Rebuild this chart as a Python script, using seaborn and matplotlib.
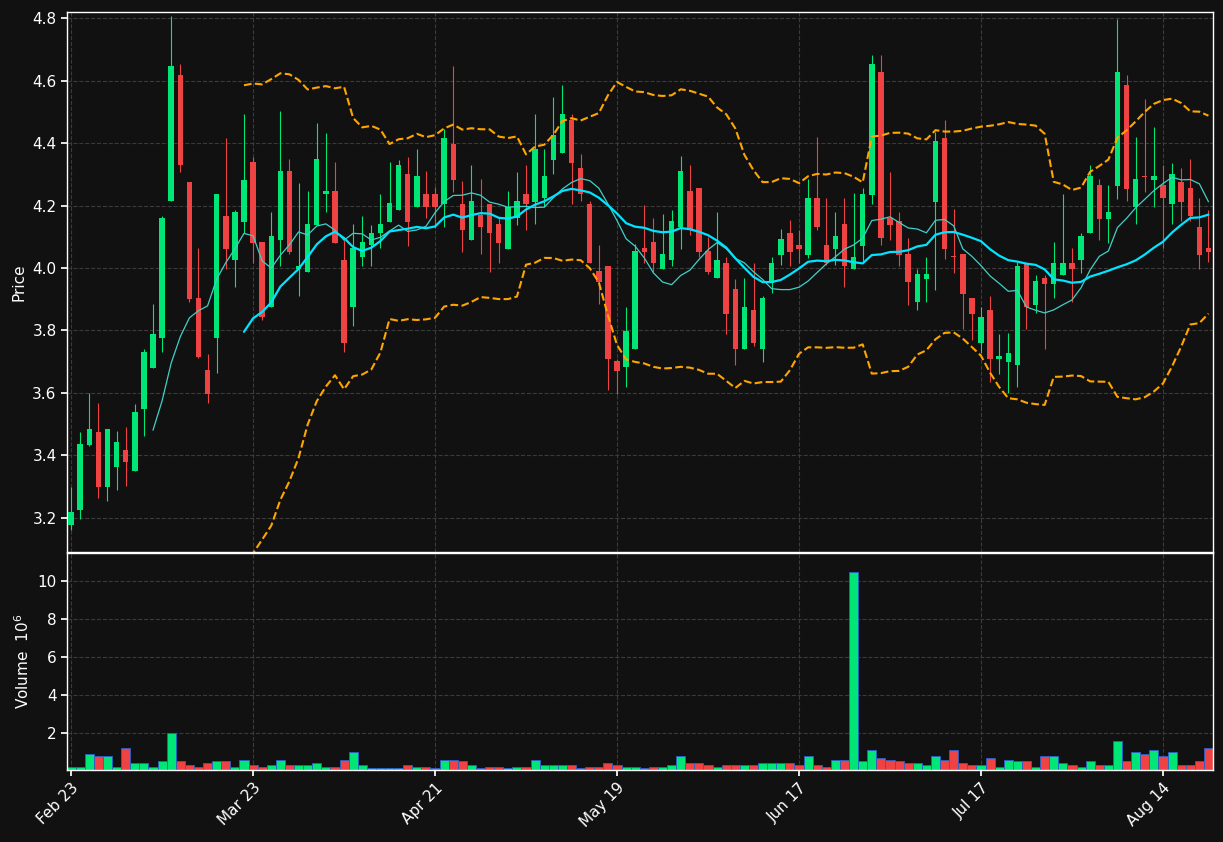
import numpy as np
import pandas as pd
import seaborn as sns
import matplotlib.pyplot as plt

# OHLC (prix), volume en millions
opens = [3.175, 3.226, 3.432, 3.475, 3.298, 3.362, 3.416, 3.349, 3.548, 3.681,
         3.777, 4.213, 4.617, 4.274, 3.903, 3.674, 3.777, 4.168, 4.025, 4.148,
         4.339, 4.082, 3.874, 4.090, 4.311, 3.997, 3.987, 4.138, 4.236, 4.246,
         4.027, 3.874, 4.034, 4.073, 4.111, 4.148, 4.186, 4.302, 4.196, 4.237,
         4.237, 4.205, 4.398, 4.206, 4.090, 4.170, 4.206, 4.141, 4.062, 4.159,
         4.237, 4.212, 4.223, 4.347, 4.368, 4.473, 4.321, 4.206, 3.989, 4.007,
         3.702, 3.682, 3.740, 4.064, 4.082, 3.997, 4.025, 4.130, 4.246, 4.256,
         4.054, 3.967, 4.017, 3.932, 3.740, 3.866, 3.740, 3.951, 4.042, 4.113,
         4.072, 4.042, 4.225, 4.072, 4.062, 4.141, 3.997, 4.070, 4.234, 4.627,
         4.161, 4.150, 4.045, 3.891, 3.966, 4.212, 4.417, 4.036, 4.045, 3.903,
         3.759, 3.866, 3.709, 3.699, 3.690, 4.012, 3.882, 3.969, 3.948, 3.978,
         4.017, 4.025, 4.111, 4.265, 4.158, 4.263, 4.587, 4.196, 4.293, 4.282,
         4.265, 4.205, 4.274, 4.256, 4.132, 4.064]
highs = [3.298, 3.474, 3.599, 3.567, 3.485, 3.478, 3.492, 3.564, 3.740, 3.884,
         4.167, 4.806, 4.655, 4.274, 4.063, 3.725, 4.237, 4.417, 4.185, 4.493,
         4.356, 4.082, 4.178, 4.502, 4.348, 4.273, 4.247, 4.463, 4.431, 4.338,
         4.090, 4.141, 4.167, 4.138, 4.236, 4.338, 4.346, 4.355, 4.380, 4.310,
         4.258, 4.445, 4.646, 4.277, 4.330, 4.284, 4.206, 4.159, 4.247, 4.308,
         4.330, 4.494, 4.380, 4.549, 4.587, 4.494, 4.364, 4.215, 4.073, 4.007,
         3.709, 3.874, 4.076, 4.202, 4.159, 4.172, 4.187, 4.359, 4.330, 4.256,
         4.100, 4.178, 4.036, 3.965, 3.967, 4.015, 3.911, 4.036, 4.126, 4.154,
         4.122, 4.284, 4.420, 4.225, 4.178, 4.225, 4.241, 4.255, 4.682, 4.682,
         4.308, 4.178, 4.097, 3.998, 4.036, 4.434, 4.473, 4.188, 4.045, 3.903,
         3.876, 3.911, 3.788, 3.793, 4.018, 4.012, 3.978, 3.978, 4.082, 4.236,
         4.063, 4.112, 4.330, 4.284, 4.265, 4.797, 4.617, 4.420, 4.540, 4.450,
         4.330, 4.335, 4.320, 4.348, 4.223, 4.186]
lows = [3.159, 3.196, 3.430, 3.263, 3.254, 3.288, 3.300, 3.349, 3.461, 3.681,
        3.731, 4.213, 4.308, 3.892, 3.711, 3.567, 3.664, 3.998, 3.939, 4.111,
        4.015, 3.834, 3.874, 4.007, 4.044, 3.911, 3.987, 4.138, 4.178, 4.081,
        3.732, 3.815, 4.007, 4.007, 4.063, 4.148, 4.186, 4.071, 4.196, 4.159,
        4.127, 4.130, 4.244, 4.050, 4.090, 4.044, 3.988, 4.015, 4.062, 4.138,
        4.122, 4.141, 4.196, 4.301, 4.368, 4.205, 4.215, 4.015, 3.885, 3.610,
        3.597, 3.618, 3.740, 4.015, 3.988, 3.997, 4.007, 4.062, 4.105, 4.036,
        3.981, 3.967, 3.788, 3.690, 3.740, 3.750, 3.700, 3.919, 4.010, 4.007,
        4.015, 4.031, 4.122, 4.010, 4.010, 3.940, 3.997, 4.015, 4.205, 4.073,
        4.090, 4.006, 3.882, 3.866, 3.891, 3.930, 4.028, 3.983, 3.805, 3.770,
        3.727, 3.636, 3.661, 3.599, 3.618, 3.804, 3.855, 3.741, 3.903, 3.978,
        3.892, 3.983, 4.111, 4.090, 4.079, 4.221, 4.214, 4.141, 4.244, 4.196,
        4.063, 4.141, 4.150, 4.150, 3.997, 4.018]
closes = [3.218, 3.435, 3.485, 3.298, 3.485, 3.444, 3.377, 3.540, 3.731, 3.788,
          4.160, 4.646, 4.329, 3.901, 3.716, 3.597, 4.237, 4.062, 4.178, 4.282,
          4.081, 3.842, 4.101, 4.311, 4.052, 4.007, 4.141, 4.349, 4.246, 4.081,
          3.759, 4.064, 4.082, 4.113, 4.141, 4.207, 4.330, 4.148, 4.293, 4.196,
          4.196, 4.417, 4.282, 4.121, 4.215, 4.130, 4.111, 4.081, 4.196, 4.215,
          4.205, 4.380, 4.293, 4.426, 4.494, 4.337, 4.236, 4.015, 3.956, 3.709,
          3.671, 3.797, 4.054, 4.052, 4.015, 4.045, 4.150, 4.311, 4.122, 4.052,
          3.987, 4.027, 3.854, 3.740, 3.876, 3.759, 3.903, 4.017, 4.092, 4.052,
          4.062, 4.225, 4.130, 4.015, 4.101, 4.006, 4.036, 4.237, 4.655, 4.095,
          4.139, 4.042, 3.956, 3.980, 3.980, 4.407, 4.062, 4.034, 3.918, 3.854,
          3.844, 3.709, 3.719, 3.726, 4.007, 3.876, 3.958, 3.948, 4.017, 4.017,
          3.997, 4.101, 4.293, 4.158, 4.178, 4.627, 4.254, 4.284, 4.292, 4.293,
          4.223, 4.302, 4.212, 4.168, 4.042, 4.052]
volumes = [0.2, 0.2, 0.9, 0.8, 0.8, 0.2, 1.2, 0.4, 0.4, 0.2,
           0.5, 2.0, 0.5, 0.3, 0.2, 0.4, 0.5, 0.5, 0.2, 0.6,
           0.3, 0.2, 0.3, 0.6, 0.3, 0.3, 0.3, 0.4, 0.2, 0.2,
           0.6, 1.0, 0.3, 0.15, 0.15, 0.15, 0.15, 0.3, 0.2, 0.2,
           0.15, 0.6, 0.6, 0.5, 0.3, 0.15, 0.2, 0.2, 0.15, 0.2,
           0.2, 0.6, 0.3, 0.3, 0.3, 0.3, 0.15, 0.2, 0.2, 0.4,
           0.3, 0.2, 0.2, 0.15, 0.2, 0.2, 0.3, 0.8, 0.4, 0.4,
           0.3, 0.2, 0.3, 0.3, 0.3, 0.3, 0.4, 0.4, 0.4, 0.4,
           0.3, 0.8, 0.3, 0.2, 0.6, 0.6, 10.5, 0.5, 1.1, 0.7,
           0.6, 0.5, 0.4, 0.4, 0.3, 0.8, 0.6, 1.1, 0.4, 0.3,
           0.3, 0.7, 0.2, 0.6, 0.5, 0.5, 0.2, 0.8, 0.8, 0.4,
           0.3, 0.2, 0.5, 0.3, 0.3, 1.6, 0.5, 1.0, 0.9, 1.1,
           0.8, 1.0, 0.3, 0.3, 0.5, 1.2]
tick_pos = [0, 20, 40, 60, 80, 100, 120]
tick_labels = ["Feb 23", "Mar 23", "Apr 21", "May 19", "Jun 17", "Jul 17", "Aug 14"]

df = pd.DataFrame({"open": opens, "high": highs, "low": lows, "close": closes, "volume": volumes})
df["idx"] = np.arange(len(df))
df["ma10"] = df["close"].rolling(10).mean()
df["ma20"] = df["close"].rolling(20).mean()
std20 = df["close"].rolling(20).std(ddof=0)
df["bb_up"] = df["ma20"] + 2 * std20
df["bb_lo"] = df["ma20"] - 2 * std20

UP, DOWN, BG = "#00e676", "#ef4242", "#111111"

sns.set_theme(style="darkgrid")
plt.rcParams["font.family"] = ["DejaVu Sans"]

fig = plt.figure(figsize=(12.23, 8.42), dpi=100, facecolor=BG)
ax = fig.add_axes([67 / 1223, 1 - 552 / 842, 1146 / 1223, 540 / 842])
axv = fig.add_axes([67 / 1223, 1 - 770 / 842, 1146 / 1223, 217 / 842], sharex=ax)

for a in (ax, axv):
    a.set_facecolor(BG)
    a.grid(True, color="#3a3a3a", linestyle="--", linewidth=0.8)
    for s in a.spines.values():
        s.set_color("white")
        s.set_linewidth(1.0)
    a.tick_params(colors="white", labelsize=11, length=4, left=True, bottom=True)

up = df["close"] >= df["open"]
colors = np.where(up, UP, DOWN)

# mèches puis corps
ax.vlines(df["idx"], df["low"], df["high"], colors=colors, linewidth=0.8, zorder=2)
body_h = (df["close"] - df["open"]).abs().clip(lower=0.004)
body_b = df[["open", "close"]].min(axis=1)
ax.bar(df["idx"], body_h, bottom=body_b, width=0.6, color=colors, edgecolor=colors,
       linewidth=0, zorder=3)

sns.lineplot(data=df, x="idx", y="ma10", ax=ax, color="#40d0c8", linewidth=0.9, zorder=4)
sns.lineplot(data=df, x="idx", y="ma20", ax=ax, color="#00e5ff", linewidth=1.6, zorder=4)
sns.lineplot(data=df, x="idx", y="bb_up", ax=ax, color="#ffa500", linewidth=1.5, linestyle="--", zorder=4)
sns.lineplot(data=df, x="idx", y="bb_lo", ax=ax, color="#ffa500", linewidth=1.5, linestyle="--", zorder=4)

ax.set_xlim(-0.45, len(df) - 0.5)
ax.set_ylim(3.09, 4.82)
ax.set_yticks([3.2, 3.4, 3.6, 3.8, 4.0, 4.2, 4.4, 4.6, 4.8])
ax.set_ylabel("Price", color="white", fontsize=11)
ax.set_xlabel("")
ax.tick_params(labelbottom=False)

axv.bar(df["idx"], df["volume"], width=1.0, color=colors, edgecolor="#2a5fd0", linewidth=0.6)
axv.set_ylim(0.05, 11.5)
axv.set_yticks([2, 4, 6, 8, 10])
axv.set_ylabel("Volume  $10^6$", color="white", fontsize=11)
axv.set_xticks(tick_pos)
axv.set_xticklabels(tick_labels, rotation=45, ha="right", rotation_mode="anchor")
axv.set_xlabel("")

fig.savefig("out.png", dpi=100, facecolor=BG)
